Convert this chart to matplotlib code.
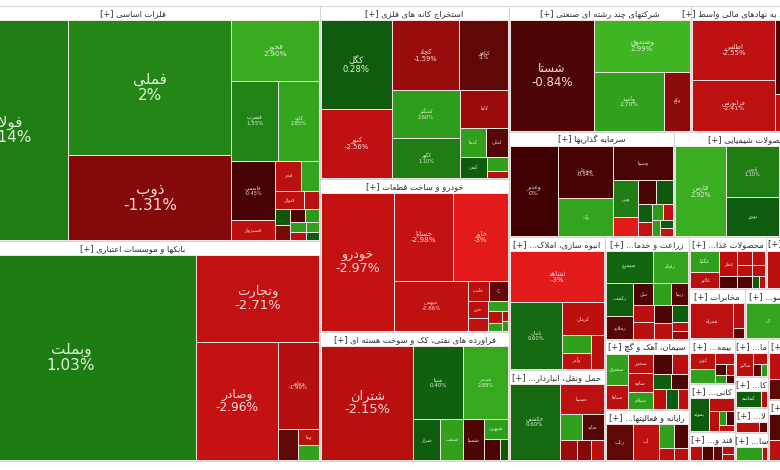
import math

import matplotlib
matplotlib.use("Agg")
import matplotlib.pyplot as plt
from matplotlib.patches import Rectangle

plt.rcParams["font.family"] = ["DejaVu Sans"]

# ---- data: one block per sector (symbol, market value weight, daily change %) ----
metals_names = ["فولاد", "فملی", "ذوب", "فخوز", "فسرب", "کاوه", "فاسمین", "فسبزوار", "فجر", "", "فنوال", "",
                "", "", "", "", "", "", "", ""]
metals_sizes = [26620, 21708, 13770, 5280, 3700, 3200, 2556, 850, 800, 539, 498, 221,
                260, 230, 200, 180, 160, 140, 130, 100]
metals_changes = [1.14, 2.0, -1.31, 2.90, 1.55, 2.85, -0.45, -2.2, -2.3, 2.8, -2.4, -1.2,
                  -2.0, 0.2, -0.8, 2.5, 2.6, -2.2, 2.7, 0.3]

banks_names = ["وبملت", "وتجارت", "وصادر", "وخاور", "", "وما", ""]
banks_sizes = [50500, 10500, 9516, 3567, 608, 330, 320]
banks_changes = [1.03, -2.71, -2.96, -1.99, -1.0, -2.0, 2.7]

mining_names = ["کگل", "کنور", "کچاد", "کبافق", "کمنگنز", "کگهر", "کاما", "کدما", "لجلی", "کمی", "", ""]
mining_sizes = [5984, 4624, 4488, 3264, 3102, 2574, 1680, 700, 616, 546, 273, 147]
mining_changes = [0.28, -2.56, -1.59, -1.0, 2.6, 1.1, -1.6, 2.7, -0.9, 0.3, 2.7, -2.3]

auto_names = ["خودرو", "خساپا", "خاور", "خبهمن", "خلنت", "خ", "خزر", "", "", "", "", "", ""]
auto_sizes = [9450, 4838, 4510, 3450, 384, 350, 330, 230, 150, 200, 110, 60, 60]
auto_changes = [-2.97, -2.98, -3.0, -2.66, -2.2, -1.0, -2.2, -2.5, -2.4, 2.7, 2.6, -2.0, 2.5]

oil_names = ["شتران", "شپنا", "شبندر", "شراز", "شنفت", "شسپا", "شبهرن", "", ""]
oil_sizes = [10032, 3479, 3124, 1025, 902, 806, 434, 312, 168]
oil_changes = [-2.15, 0.40, 2.88, 0.3, 2.7, -0.8, 2.6, -0.7, 0.2]

holding_names = ["شستا", "وصندوق", "وامید", "وکغ"]
holding_sizes = [8910, 4750, 3944, 1450]
holding_changes = [-0.84, 2.99, 2.70, -1.4]

finaux_names = ["اطلس", "فرابورس", "", ""]
finaux_sizes = [4756, 4100, 3358, 1700]
finaux_changes = [-2.55, -2.41, -0.8, -2.2]

invest_names = ["وغدیر", "وبوعلی", "وک", "وسینا", "وس", "", "", "", "", "", "", "", "", "", ""]
invest_sizes = [3872, 2600, 1900, 1850, 800, 420, 400, 360, 220, 180, 150, 140, 120, 100, 90]
invest_changes = [0.0, -0.54, 2.8, -0.6, 1.2, -3.0, -0.6, 0.2, 0.3, -2.8, 2.5, -2.5, 2.6, 0.3, -2.8]

chem_names = ["فارس", "پارس", "نوری", "", ""]
chem_sizes = [4400, 2600, 2000, 1950, 1877]
chem_changes = [2.92, 1.1, 0.3, -1.2, 0.5]

estate_names = ["ثشاهد", "ثامان", "کرمان", "", "وآذر", "ثغرب"]
estate_sizes = [4416, 3185, 1260, 460, 430, 400]
estate_changes = [-3.0, 0.6, -2.3, 2.7, -2.4, -2.0]

transport_names = ["حکشتی", "حسینا", "", "حتاید", "", "", ""]
transport_sizes = [3525, 1247, 560, 540, 315, 273, 231]
transport_changes = [0.60, -2.4, 2.7, -0.9, -1.6, -1.3, -2.2]

agri_names = ["سیمرغ", "زقیام", "زکشت", "زملارد", "سل", "", "", "زبینا", "", "", "", "", "", ""]
agri_sizes = [1260, 952, 775, 550, 380, 340, 300, 323, 289, 285, 255, 225, 120, 110]
agri_changes = [0.5, 2.8, 0.3, -0.9, -0.8, 2.7, -2.3, -0.9, -2.0, -0.8, -2.2, 0.3, -2.2, -1.5]

cement_names = ["سشرق", "سپاها", "سخزر", "ساوه", "سیلام", "", "", "", "", "", "", ""]
cement_sizes = [600, 460, 432, 408, 384, 323, 285, 240, 240, 221, 210, 180]
cement_changes = [2.7, -2.3, -2.2, -2.2, 2.6, -0.8, -2.1, 0.3, -0.8, -2.0, 0.3, -2.2]

computer_names = ["رتاپ", "آپ", "", "", "", ""]
computer_sizes = [825, 792, 323, 285, 153, 135]
computer_changes = [-1.0, -2.5, 2.7, -0.8, -2.3, -2.1]

food_names = ["غگلپا", "غالبر", "غفار", "", "", "", "", "", "", "", ""]
food_sizes = [550, 410, 400, 182, 180, 156, 150, 150, 130, 80, 60]
food_changes = [2.7, -2.0, -2.3, -0.7, -2.2, -2.4, -2.0, -0.8, -2.2, 0.3, -2.2]

pharma_names = ["", ""]
pharma_sizes = [1800, 1200]
pharma_changes = [-2.3, -2.2]

telecom_names = ["همراه", "اخابر", ""]
telecom_sizes = [1419, 264, 100]
telecom_changes = [-2.4, -2.2, -1.0]

metalprod_names = ["ک", ""]
metalprod_sizes = [1500, 1100]
metalprod_changes = [2.8, -2.0]

insurance_names = ["کوثر", "", "", "", "", "", ""]
insurance_sizes = [375, 345, 190, 120, 90, 80, 60]
insurance_changes = [-2.2, 2.7, -2.3, -0.8, -2.0, 2.5, -0.7]

mineral_names = ["بموتد", "", "", "", "", ""]
mineral_sizes = [576, 300, 180, 100, 100, 80]
mineral_changes = [0.3, -2.2, -2.0, 2.5, -0.7, -2.2]

sugar_names = ["", "", "", "", ""]
sugar_sizes = [180, 160, 140, 100, 80]
sugar_changes = [-2.2, -0.7, -1.0, -2.2, -2.0]

machine_names = ["سالبر", "", "", ""]
machine_sizes = [320, 120, 80, 60]
machine_changes = [-2.2, -2.3, -1.0, 2.5]

tile_names = ["کماسه", ""]
tile_sizes = [450, 100]
tile_changes = [0.3, -2.0]

rubber_names = ["", ""]
rubber_sizes = [300, 100]
rubber_changes = [-2.2, -1.0]

othermin_names = ["", ""]
othermin_sizes = [320, 60]
othermin_changes = [2.6, -2.0]

textile_names = ["", "", "", ""]
textile_sizes = [900, 700, 500, 400]
textile_changes = [-2.2, -1.0, -2.3, 2.6]

paper_names = ["ولر", "", "", ""]
paper_sizes = [900, 700, 500, 300]
paper_changes = [-0.9, -2.2, -2.0, 2.5]

SECTOR_NAMES = [
    "فلزات اساسی", "بانکها و موسسات اعتباری", "استخراج کانه های فلزی", "خودرو و ساخت قطعات",
    "فراورده های نفتی، کک و سوخت هسته ای", "شرکتهای چند رشته ای صنعتی",
    "فعالیتهای کمکی به نهادهای مالی واسط", "سرمایه گذاریها", "محصولات شیمیایی",
    "انبوه سازی، املاک و مستغلات", "حمل ونقل، انبارداری و ارتباطات", "زراعت و خدمات وابسته",
    "سیمان، آهک و گچ", "رایانه و فعالیتهای وابسته به آن", "محصولات غذایی و آشامیدنی",
    "مواد و محصولات دارویی", "مخابرات", "ساخت محصولات فلزی", "بیمه و صندوق بازنشستگی",
    "کانی های غیرفلزی", "قند و شکر", "ماشین آلات و تجهیزات", "کاشی و سرامیک",
    "لاستیک و پلاستیک", "سایر محصولات کانی", "منسوجات", "محصولات کاغذی",
]
SECTOR_VALUES = [88125, 82500, 32697, 28917, 24381, 22932, 16758, 17325, 15750, 12768, 8736,
                 8652, 5880, 4284, 4004, 3016, 2800, 3950, 2070, 2208, 1334, 1254, 1023, 825,
                 924, 3416, 3416]
SECTOR_STOCKS = [
    (metals_names, metals_sizes, metals_changes), (banks_names, banks_sizes, banks_changes),
    (mining_names, mining_sizes, mining_changes), (auto_names, auto_sizes, auto_changes),
    (oil_names, oil_sizes, oil_changes), (holding_names, holding_sizes, holding_changes),
    (finaux_names, finaux_sizes, finaux_changes), (invest_names, invest_sizes, invest_changes),
    (chem_names, chem_sizes, chem_changes), (estate_names, estate_sizes, estate_changes),
    (transport_names, transport_sizes, transport_changes), (agri_names, agri_sizes, agri_changes),
    (cement_names, cement_sizes, cement_changes), (computer_names, computer_sizes, computer_changes),
    (food_names, food_sizes, food_changes), (pharma_names, pharma_sizes, pharma_changes),
    (telecom_names, telecom_sizes, telecom_changes),
    (metalprod_names, metalprod_sizes, metalprod_changes),
    (insurance_names, insurance_sizes, insurance_changes),
    (mineral_names, mineral_sizes, mineral_changes), (sugar_names, sugar_sizes, sugar_changes),
    (machine_names, machine_sizes, machine_changes), (tile_names, tile_sizes, tile_changes),
    (rubber_names, rubber_sizes, rubber_changes),
    (othermin_names, othermin_sizes, othermin_changes),
    (textile_names, textile_sizes, textile_changes), (paper_names, paper_sizes, paper_changes),
]

# sector arrangement: "h" = side by side, "v" = stacked; leaves are sector indices
TOP_LAYOUT = ("h", [("v", [0, 1]), ("v", [2, 3, 4]),
                    ("v", [("h", [5, 6]), ("h", [7, 8]),
                           ("h", [("v", [9, 10]), ("v", [11, 12, 13]),
                                  ("v", [("h", [14, 15]), ("h", [16, 17]),
                                         ("h", [("v", [18, 19, 20]), ("v", [21, 22, 23, 24]),
                                                ("v", [25, 26])])])])])])

MAP_BOX = (-55, 6, 824, 461)   # the map is wider than the visible crop
VIEW_W, VIEW_H = 780, 470
HEADER_H = 14
HEADER_FS = 6.0
TARGET_RATIO = 1.0

# ---- minimal Persian shaping (matplotlib has no complex text layout) ----
_FORM_TABLE = {
    "ا": "FE8D FE8E", "آ": "FE81 FE82", "ب": "FE8F FE90 FE91 FE92", "پ": "FB56 FB57 FB58 FB59",
    "ت": "FE95 FE96 FE97 FE98", "ث": "FE99 FE9A FE9B FE9C", "ج": "FE9D FE9E FE9F FEA0",
    "چ": "FB7A FB7B FB7C FB7D", "ح": "FEA1 FEA2 FEA3 FEA4", "خ": "FEA5 FEA6 FEA7 FEA8",
    "د": "FEA9 FEAA", "ذ": "FEAB FEAC", "ر": "FEAD FEAE", "ز": "FEAF FEB0", "ژ": "FB8A FB8B",
    "س": "FEB1 FEB2 FEB3 FEB4", "ش": "FEB5 FEB6 FEB7 FEB8", "ص": "FEB9 FEBA FEBB FEBC",
    "ض": "FEBD FEBE FEBF FEC0", "ط": "FEC1 FEC2 FEC3 FEC4", "ظ": "FEC5 FEC6 FEC7 FEC8",
    "ع": "FEC9 FECA FECB FECC", "غ": "FECD FECE FECF FED0", "ف": "FED1 FED2 FED3 FED4",
    "ق": "FED5 FED6 FED7 FED8", "ک": "FB8E FB8F FB90 FB91", "گ": "FB92 FB93 FB94 FB95",
    "ل": "FEDD FEDE FEDF FEE0", "م": "FEE1 FEE2 FEE3 FEE4", "ن": "FEE5 FEE6 FEE7 FEE8",
    "ه": "FEE9 FEEA FEEB FEEC", "و": "FEED FEEE", "ی": "FBFC FBFD FBFE FBFF",
    "ئ": "FE89 FE8A FE8B FE8C",
}
FORMS = {k: tuple(chr(int(h, 16)) for h in v.split()) for k, v in _FORM_TABLE.items()}
LAM_ALEF = {"ا": ("\uFEFB", "\uFEFC"), "آ": ("\uFEF5", "\uFEF6")}


def _dual(c):
    return c in FORMS and len(FORMS[c]) == 4


def rtl(text):
    out = []
    i = 0
    while i < len(text):
        c = text[i]
        if c not in FORMS:
            out.append(c)
            i += 1
            continue
        joins_prev = i > 0 and _dual(text[i - 1])
        if c == "ل" and i + 1 < len(text) and text[i + 1] in LAM_ALEF:
            out.append(LAM_ALEF[text[i + 1]][1 if joins_prev else 0])
            i += 2
            continue
        joins_next = _dual(c) and i + 1 < len(text) and text[i + 1] in FORMS
        f = FORMS[c]
        if joins_prev and joins_next:
            out.append(f[3])
        elif joins_prev:
            out.append(f[1])
        elif joins_next:
            out.append(f[2])
        else:
            out.append(f[0])
        i += 1
    return "".join(out)[::-1]


# ---- layout ----
def squarify(values, x0, y0, x1, y1):
    """Squarified treemap (d3 style), values laid out largest first."""
    order = sorted(range(len(values)), key=lambda k: -values[k])
    rects = [None] * len(values)
    value = float(sum(values))
    i0 = i1 = 0
    n = len(order)
    while i0 < n:
        dx, dy = x1 - x0, y1 - y0
        sum_v = values[order[i1]]
        i1 += 1
        min_v = max_v = sum_v
        alpha = max(dy / dx, dx / dy) / (value * TARGET_RATIO)
        beta = sum_v * sum_v * alpha
        min_ratio = max(max_v / beta, beta / min_v)
        while i1 < n:
            nv = values[order[i1]]
            sum_v += nv
            min_v, max_v = min(min_v, nv), max(max_v, nv)
            beta = sum_v * sum_v * alpha
            new_ratio = max(max_v / beta, beta / min_v)
            if new_ratio > min_ratio:
                sum_v -= nv
                break
            min_ratio = new_ratio
            i1 += 1
        row = order[i0:i1]
        if dx < dy:
            yb = y0 + dy * sum_v / value if i1 < n else y1
            x = x0
            for k in row:
                w = (x1 - x0) * values[k] / sum_v
                rects[k] = (x, y0, x + w, yb)
                x += w
            y0 = yb
        else:
            xb = x0 + dx * sum_v / value if i1 < n else x1
            y = y0
            for k in row:
                h = (y1 - y0) * values[k] / sum_v
                rects[k] = (x0, y, xb, y + h)
                y += h
            x0 = xb
        value -= sum_v
        i0 = i1
    return rects


def node_total(node):
    if isinstance(node, int):
        return SECTOR_VALUES[node]
    return sum(node_total(k) for k in node[1])


def split(node, x0, y0, x1, y1, out):
    if isinstance(node, int):
        out[node] = (x0, y0, x1, y1)
        return
    orient, kids = node
    tot = node_total(node)
    pos = x0 if orient == "h" else y0
    for k in kids:
        frac = node_total(k) / tot
        if orient == "h":
            w = (x1 - x0) * frac
            split(k, pos, y0, pos + w, y1, out)
            pos += w
        else:
            h = (y1 - y0) * frac
            split(k, x0, pos, x1, pos + h, out)
            pos += h


# ---- colours ----
RED_STOPS = [(0.0, (62, 0, 0)), (0.84, (78, 5, 5)), (1.31, (132, 10, 10)), (2.0, (184, 15, 15)),
             (2.98, (196, 18, 18)), (3.0, (226, 26, 26)), (5.0, (226, 26, 26))]
GREEN_STOPS = [(0.0, (12, 80, 12)), (0.3, (14, 92, 14)), (1.0, (30, 124, 20)), (2.0, (36, 134, 22)),
               (2.85, (52, 166, 30)), (3.0, (64, 182, 36)), (5.0, (64, 182, 36))]


def change_color(c):
    stops = GREEN_STOPS if c > 0 else RED_STOPS
    a = abs(c)
    for (v0, c0), (v1, c1) in zip(stops, stops[1:]):
        if a <= v1:
            t = (a - v0) / (v1 - v0)
            return tuple((c0[j] + t * (c1[j] - c0[j])) / 255 for j in range(3))
    return tuple(x / 255 for x in stops[-1][1])


def pct_label(c):
    s = f"{c:.2f}"
    if s.endswith(".00"):
        s = s[:-3]
    if s == "-0":
        s = "0"
    return s + "%"


fig = plt.figure(figsize=(VIEW_W / 100, VIEW_H / 100), dpi=100)
ax = fig.add_axes([0, 0, 1, 1])
ax.set_xlim(0, VIEW_W)
ax.set_ylim(VIEW_H, 0)
ax.axis("off")
fig.patch.set_facecolor("white")
renderer = fig.canvas.get_renderer()

sector_rects = [None] * len(SECTOR_NAMES)
split(TOP_LAYOUT, *MAP_BOX, sector_rects)

for si, (sx0, sy0, sx1, sy1) in enumerate(sector_rects):
    ax.add_patch(Rectangle((sx0, sy0), sx1 - sx0, sy1 - sy0, facecolor="white",
                           edgecolor="#d4d4d4", lw=0.7))

    # header, shortened until it fits; wide sectors running past the crop keep the full name
    name = SECTOR_NAMES[si]
    keep_full = sx1 > VIEW_W and VIEW_W - sx0 > 60
    cut = name
    while True:
        label = "[+] " + rtl(cut) if cut == name else "[+] ..." + rtl(cut)
        t = ax.text((sx0 + sx1) / 2, sy0 + HEADER_H / 2 + 0.5, label, ha="center", va="center",
                    fontsize=HEADER_FS, color="#2e2e2e")
        if keep_full or t.get_window_extent(renderer).width <= (sx1 - sx0) - 4 or len(cut) <= 2:
            break
        t.remove()
        cut = cut[:-1].rstrip()

    names, sizes, changes = SECTOR_STOCKS[si]
    cells = squarify(sizes, sx0 + 1, sy0 + HEADER_H, sx1 - 1, sy1 - 1)
    for (cx0, cy0, cx1, cy1), nm, chg in zip(cells, names, changes):
        col = change_color(chg)
        ax.add_patch(Rectangle((cx0, cy0), cx1 - cx0, cy1 - cy0, facecolor=col,
                               edgecolor="#f4e6e6", lw=0.7))
        w, h = cx1 - cx0, cy1 - cy0
        if not nm or w < 14 or h < 9:
            continue
        side = math.sqrt(w * h)
        raw = min(11.0, 9.0 * (side / 100) ** 1.65)
        fs = max(raw, 3.6)
        two_lines = raw >= 2.8 and h >= 2.6 * fs * 1.39
        text = rtl(nm) + ("\n" + pct_label(chg) if two_lines else "")
        if len(nm) * 0.5 * fs * 1.39 > w - 2:
            continue
        tcol = "#dff3d4" if chg > 0 else "#f6dada"
        ax.text((cx0 + cx1) / 2, (cy0 + cy1) / 2, text, ha="center", va="center",
                fontsize=fs, color=tcol, linespacing=1.05, clip_on=True)

fig.savefig("out.png", dpi=100)
